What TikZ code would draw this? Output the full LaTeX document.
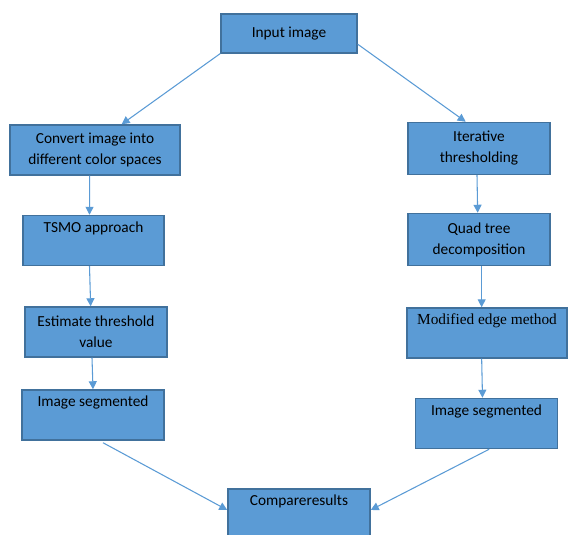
\documentclass[tikz,border=0pt]{standalone}
\usepackage{fontspec}
\setmainfont{Carlito}
\newfontfamily\serifbox{Liberation Serif}
\usepackage{tikz}
\usetikzlibrary{arrows.meta,calc,positioning}
\definecolor{boxfill}{HTML}{5B9BD5}
\definecolor{boxline}{HTML}{41719C}
\definecolor{arrline}{HTML}{5B9BD5}
\tikzset{
  stagebox/.style={draw=boxline,line width=1.1pt,fill=boxfill,align=center,inner sep=0pt,
    minimum height=37.5pt,font=\fontsize{11.5}{15.75}\selectfont},
  flow/.style={draw=arrline,line width=0.8pt,-{Triangle[length=6pt,width=6pt]}}
}

\begin{document}
\begin{tikzpicture}[x=0.75pt,y=-0.75pt]
\useasboundingbox (0,0) rectangle (568,535);
\node[stagebox,minimum width=102pt,minimum height=29pt] (in) at (289,33.5) {Input image};
\node[stagebox,minimum width=127.5pt] (conv) at (95,150) {Convert image into\\different color spaces};
\node[stagebox,minimum width=106.5pt,minimum height=39pt] (iter) at (479,148.5) {Iterative\\thresholding};
\node[stagebox,minimum width=105.75pt] (tsmo) at (93.5,240.5) {TSMO approach\\ \strut};
\node[stagebox,minimum width=106.5pt,minimum height=39pt] (quad) at (479,239.5) {Quad tree\\decomposition};
\node[stagebox,minimum width=106.5pt] (est) at (96,332) {Estimate threshold\\value};
\node[stagebox,minimum width=120pt,font=\serifbox\fontsize{11.5}{15.75}\selectfont] (mod) at (487,333) {Modified edge method\\ \strut};
\node[stagebox,minimum width=106.5pt] (segl) at (93,415) {Image segmented\\ \strut};
\node[stagebox,minimum width=106.5pt] (segr) at (486.5,423.5) {Image segmented\\ \strut};
\node[stagebox,minimum width=106.5pt] (cmp) at (299,514) {Compareresults\\ \strut};
% left branch
\draw[flow] (in.south west) -- ([xshift=20pt]conv.north);
\draw[flow] ([xshift=-4pt]conv.south) -- ([xshift=-3pt]tsmo.north);
\draw[flow] ([xshift=-3pt]tsmo.south) -- ([xshift=-4pt]est.north);
\draw[flow] ([xshift=-3pt]est.south) -- (segl.north);
\draw[flow] ([xshift=7.5pt,yshift=-1.5pt]segl.south) -- ([yshift=3pt]cmp.west);
% right branch
\draw[flow] ([yshift=7pt]in.south east) -- ([xshift=-10pt]iter.north);
\draw[flow] ([xshift=-1.5pt]iter.south) -- ([xshift=-1pt]quad.north);
\draw[flow] ([xshift=2pt]quad.south) -- ([xshift=-4pt]mod.north);
\draw[flow] ([xshift=-4pt]mod.south) -- ([xshift=-3pt]segr.north);
\draw[flow] ([xshift=2pt]segr.south) -- ([yshift=3pt]cmp.east);
\end{tikzpicture}
\end{document}
